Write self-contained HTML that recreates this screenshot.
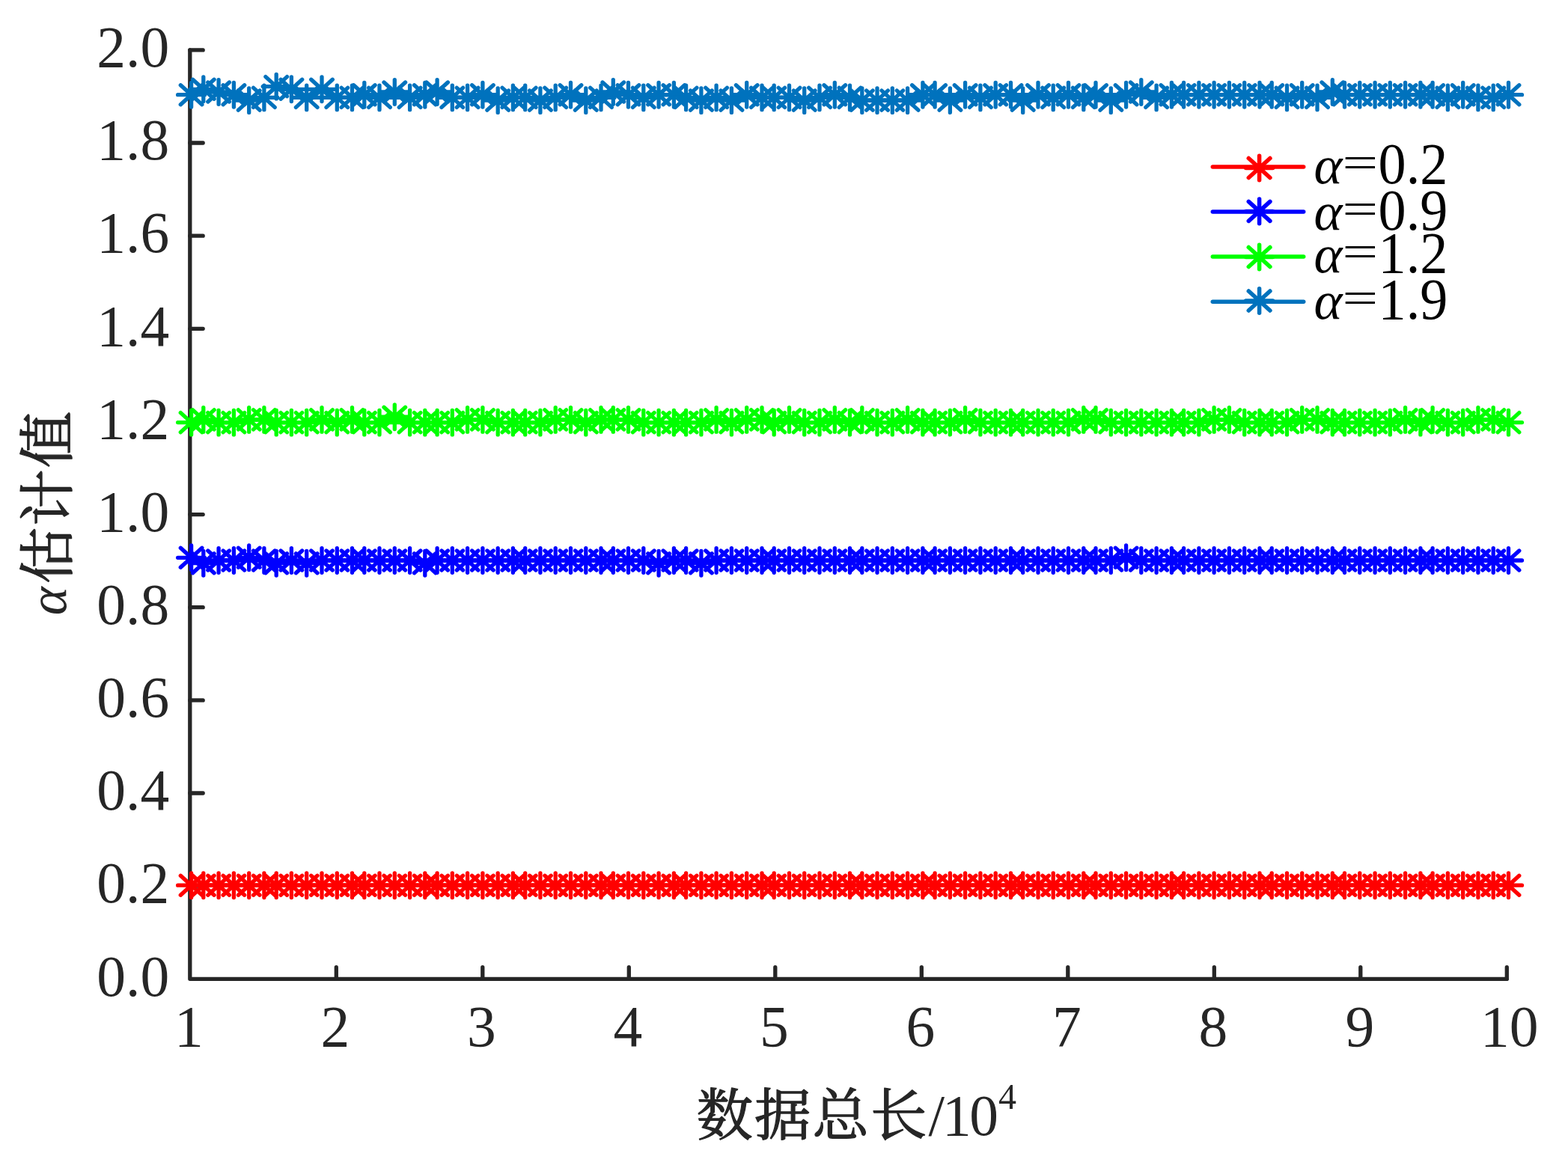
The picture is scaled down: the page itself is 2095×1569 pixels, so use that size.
<!DOCTYPE html>
<html lang="zh"><head><meta charset="utf-8"><title>α估计值</title>
<style>html,body{margin:0;padding:0;background:#fff}body{width:2095px;height:1569px;overflow:hidden}svg{display:block}text{font-family:"Liberation Serif","Noto Serif CJK SC",serif;fill:#262626;font-size:77.5px}.lg text{fill:#000}.cj{font-family:"Noto Serif CJK SC","Liberation Serif",serif;font-size:75.5px;letter-spacing:2px;stroke:#262626;stroke-width:1.3px;stroke-linejoin:round}.i{font-style:italic}</style></head><body>
<svg width="2095" height="1569" viewBox="0 0 2095 1569">
<rect width="2095" height="1569" fill="#fff"/>
<defs><path id="m" d="M-18 0H18M0 -16.3V16.3M-14.3 -13L14.3 13M-14.3 13L14.3 -13"/></defs>
<g stroke="#262626" stroke-width="5.3" stroke-linecap="round" stroke-linejoin="round" fill="none">
<path d="M253.8 66.9V1308.3H2013.3"/>
<path d="M253.8 1184.2h17.4M253.8 1060.0h17.4M253.8 935.9h17.4M253.8 811.7h17.4M253.8 687.6h17.4M253.8 563.5h17.4M253.8 439.3h17.4M253.8 315.2h17.4M253.8 191.0h17.4M253.8 66.9h17.4M449.3 1308.3v-15.6M644.8 1308.3v-15.6M840.3 1308.3v-15.6M1035.8 1308.3v-15.6M1231.3 1308.3v-15.6M1426.8 1308.3v-15.6M1622.3 1308.3v-15.6M1817.8 1308.3v-15.6M2013.3 1308.3v-15.6"/>
</g>
<g text-anchor="end">
<text x="226.2" y="1330.5">0.0</text>
<text x="226.2" y="1206.4">0.2</text>
<text x="226.2" y="1082.2">0.4</text>
<text x="226.2" y="958.1">0.6</text>
<text x="226.2" y="833.9">0.8</text>
<text x="226.2" y="709.8">1.0</text>
<text x="226.2" y="585.7">1.2</text>
<text x="226.2" y="461.5">1.4</text>
<text x="226.2" y="337.4">1.6</text>
<text x="226.2" y="213.2">1.8</text>
<text x="226.2" y="89.1">2.0</text>
</g>
<g text-anchor="middle">
<text x="252.3" y="1398">1</text>
<text x="447.8" y="1398">2</text>
<text x="643.3" y="1398">3</text>
<text x="838.8" y="1398">4</text>
<text x="1034.3" y="1398">5</text>
<text x="1229.8" y="1398">6</text>
<text x="1425.3" y="1398">7</text>
<text x="1620.8" y="1398">8</text>
<text x="1816.8" y="1398">9</text>
<text x="2016.8" y="1398">10</text>
</g>
<text x="930.5" y="1517.2"><tspan class="cj">数据总长</tspan><tspan x="1240.6" y="1516.8">/</tspan><tspan x="1259">1</tspan><tspan x="1295.3">0</tspan><tspan x="1334" y="1482.3" style="font-size:48px">4</tspan></text>
<text class="i" style="font-size:72.3px" transform="translate(88 822.3) rotate(-90)">α</text>
<text class="cj" transform="translate(90 780.2) rotate(-90)">估计值</text>
<g stroke="#ff0000" stroke-width="5.3" stroke-linecap="round" stroke-linejoin="round" fill="none">
<polyline points="255.6,1183.2 271.8,1183.2 292.1,1183.2 312.4,1183.2 332.7,1183.2 352.9,1183.2 369.2,1183.2 389.4,1183.2 409.7,1183.2 430.0,1183.2 450.3,1183.2 470.5,1183.2 486.8,1183.2 507.0,1183.2 527.3,1183.2 547.6,1183.2 567.8,1183.2 584.1,1183.2 604.3,1183.2 624.6,1183.2 644.9,1183.2 665.2,1183.2 685.4,1183.2 701.7,1183.2 721.9,1183.2 742.2,1183.2 762.5,1183.2 782.8,1183.2 803.0,1183.2 819.3,1183.2 839.5,1183.2 859.8,1183.2 880.1,1183.2 900.4,1183.2 916.6,1183.2 936.9,1183.2 957.1,1183.2 977.4,1183.2 997.7,1183.2 1018.0,1183.2 1034.2,1183.2 1054.5,1183.2 1074.7,1183.2 1095.0,1183.2 1115.3,1183.2 1135.5,1183.2 1151.8,1183.2 1172.0,1183.2 1192.3,1183.2 1212.6,1183.2 1232.9,1183.2 1249.1,1183.2 1269.4,1183.2 1289.6,1183.2 1309.9,1183.2 1330.2,1183.2 1350.5,1183.2 1366.7,1183.2 1387.0,1183.2 1407.2,1183.2 1427.5,1183.2 1447.8,1183.2 1464.0,1183.2 1484.3,1183.2 1504.6,1183.2 1524.8,1183.2 1545.1,1183.2 1565.4,1183.2 1581.6,1183.2 1601.9,1183.2 1622.1,1183.2 1642.4,1183.2 1662.7,1183.2 1683.0,1183.2 1699.2,1183.2 1719.5,1183.2 1739.7,1183.2 1760.0,1183.2 1780.3,1183.2 1796.5,1183.2 1816.8,1183.2 1837.1,1183.2 1857.3,1183.2 1877.6,1183.2 1897.9,1183.2 1914.1,1183.2 1934.4,1183.2 1954.7,1183.2 1974.9,1183.2 1995.2,1183.2 2015.5,1183.2"/>
<use href="#m" x="255.6" y="1183.2"/><use href="#m" x="271.8" y="1183.2"/><use href="#m" x="292.1" y="1183.2"/><use href="#m" x="312.4" y="1183.2"/><use href="#m" x="332.7" y="1183.2"/><use href="#m" x="352.9" y="1183.2"/><use href="#m" x="369.2" y="1183.2"/><use href="#m" x="389.4" y="1183.2"/><use href="#m" x="409.7" y="1183.2"/><use href="#m" x="430.0" y="1183.2"/><use href="#m" x="450.3" y="1183.2"/><use href="#m" x="470.5" y="1183.2"/><use href="#m" x="486.8" y="1183.2"/><use href="#m" x="507.0" y="1183.2"/><use href="#m" x="527.3" y="1183.2"/><use href="#m" x="547.6" y="1183.2"/><use href="#m" x="567.8" y="1183.2"/><use href="#m" x="584.1" y="1183.2"/><use href="#m" x="604.3" y="1183.2"/><use href="#m" x="624.6" y="1183.2"/><use href="#m" x="644.9" y="1183.2"/><use href="#m" x="665.2" y="1183.2"/><use href="#m" x="685.4" y="1183.2"/><use href="#m" x="701.7" y="1183.2"/><use href="#m" x="721.9" y="1183.2"/><use href="#m" x="742.2" y="1183.2"/><use href="#m" x="762.5" y="1183.2"/><use href="#m" x="782.8" y="1183.2"/><use href="#m" x="803.0" y="1183.2"/><use href="#m" x="819.3" y="1183.2"/><use href="#m" x="839.5" y="1183.2"/><use href="#m" x="859.8" y="1183.2"/><use href="#m" x="880.1" y="1183.2"/><use href="#m" x="900.4" y="1183.2"/><use href="#m" x="916.6" y="1183.2"/><use href="#m" x="936.9" y="1183.2"/><use href="#m" x="957.1" y="1183.2"/><use href="#m" x="977.4" y="1183.2"/><use href="#m" x="997.7" y="1183.2"/><use href="#m" x="1018.0" y="1183.2"/><use href="#m" x="1034.2" y="1183.2"/><use href="#m" x="1054.5" y="1183.2"/><use href="#m" x="1074.7" y="1183.2"/><use href="#m" x="1095.0" y="1183.2"/><use href="#m" x="1115.3" y="1183.2"/><use href="#m" x="1135.5" y="1183.2"/><use href="#m" x="1151.8" y="1183.2"/><use href="#m" x="1172.0" y="1183.2"/><use href="#m" x="1192.3" y="1183.2"/><use href="#m" x="1212.6" y="1183.2"/><use href="#m" x="1232.9" y="1183.2"/><use href="#m" x="1249.1" y="1183.2"/><use href="#m" x="1269.4" y="1183.2"/><use href="#m" x="1289.6" y="1183.2"/><use href="#m" x="1309.9" y="1183.2"/><use href="#m" x="1330.2" y="1183.2"/><use href="#m" x="1350.5" y="1183.2"/><use href="#m" x="1366.7" y="1183.2"/><use href="#m" x="1387.0" y="1183.2"/><use href="#m" x="1407.2" y="1183.2"/><use href="#m" x="1427.5" y="1183.2"/><use href="#m" x="1447.8" y="1183.2"/><use href="#m" x="1464.0" y="1183.2"/><use href="#m" x="1484.3" y="1183.2"/><use href="#m" x="1504.6" y="1183.2"/><use href="#m" x="1524.8" y="1183.2"/><use href="#m" x="1545.1" y="1183.2"/><use href="#m" x="1565.4" y="1183.2"/><use href="#m" x="1581.6" y="1183.2"/><use href="#m" x="1601.9" y="1183.2"/><use href="#m" x="1622.1" y="1183.2"/><use href="#m" x="1642.4" y="1183.2"/><use href="#m" x="1662.7" y="1183.2"/><use href="#m" x="1683.0" y="1183.2"/><use href="#m" x="1699.2" y="1183.2"/><use href="#m" x="1719.5" y="1183.2"/><use href="#m" x="1739.7" y="1183.2"/><use href="#m" x="1760.0" y="1183.2"/><use href="#m" x="1780.3" y="1183.2"/><use href="#m" x="1796.5" y="1183.2"/><use href="#m" x="1816.8" y="1183.2"/><use href="#m" x="1837.1" y="1183.2"/><use href="#m" x="1857.3" y="1183.2"/><use href="#m" x="1877.6" y="1183.2"/><use href="#m" x="1897.9" y="1183.2"/><use href="#m" x="1914.1" y="1183.2"/><use href="#m" x="1934.4" y="1183.2"/><use href="#m" x="1954.7" y="1183.2"/><use href="#m" x="1974.9" y="1183.2"/><use href="#m" x="1995.2" y="1183.2"/><use href="#m" x="2015.5" y="1183.2"/>
</g>
<g stroke="#0000ff" stroke-width="5.3" stroke-linecap="round" stroke-linejoin="round" fill="none">
<polyline points="255.6,745.3 271.8,752.7 292.1,749.0 312.4,749.0 332.7,745.3 352.9,749.0 369.2,752.7 389.4,749.0 409.7,752.7 430.0,749.0 450.3,749.0 470.5,749.0 486.8,749.0 507.0,749.0 527.3,749.0 547.6,749.0 567.8,752.7 584.1,749.0 604.3,749.0 624.6,749.0 644.9,749.0 665.2,749.0 685.4,749.0 701.7,749.0 721.9,749.0 742.2,749.0 762.5,749.0 782.8,749.0 803.0,749.0 819.3,749.0 839.5,749.0 859.8,749.0 880.1,752.7 900.4,749.0 916.6,749.0 936.9,752.7 957.1,749.0 977.4,749.0 997.7,749.0 1018.0,749.0 1034.2,749.0 1054.5,749.0 1074.7,749.0 1095.0,749.0 1115.3,749.0 1135.5,749.0 1151.8,749.0 1172.0,749.0 1192.3,749.0 1212.6,749.0 1232.9,749.0 1249.1,749.0 1269.4,749.0 1289.6,749.0 1309.9,749.0 1330.2,749.0 1350.5,749.0 1366.7,749.0 1387.0,749.0 1407.2,749.0 1427.5,749.0 1447.8,749.0 1464.0,749.0 1484.3,749.0 1504.6,745.3 1524.8,749.0 1545.1,749.0 1565.4,749.0 1581.6,749.0 1601.9,749.0 1622.1,749.0 1642.4,749.0 1662.7,749.0 1683.0,749.0 1699.2,749.0 1719.5,749.0 1739.7,749.0 1760.0,749.0 1780.3,749.0 1796.5,749.0 1816.8,749.0 1837.1,749.0 1857.3,749.0 1877.6,749.0 1897.9,749.0 1914.1,749.0 1934.4,749.0 1954.7,749.0 1974.9,749.0 1995.2,749.0 2015.5,749.0"/>
<use href="#m" x="255.6" y="745.3"/><use href="#m" x="271.8" y="752.7"/><use href="#m" x="292.1" y="749.0"/><use href="#m" x="312.4" y="749.0"/><use href="#m" x="332.7" y="745.3"/><use href="#m" x="352.9" y="749.0"/><use href="#m" x="369.2" y="752.7"/><use href="#m" x="389.4" y="749.0"/><use href="#m" x="409.7" y="752.7"/><use href="#m" x="430.0" y="749.0"/><use href="#m" x="450.3" y="749.0"/><use href="#m" x="470.5" y="749.0"/><use href="#m" x="486.8" y="749.0"/><use href="#m" x="507.0" y="749.0"/><use href="#m" x="527.3" y="749.0"/><use href="#m" x="547.6" y="749.0"/><use href="#m" x="567.8" y="752.7"/><use href="#m" x="584.1" y="749.0"/><use href="#m" x="604.3" y="749.0"/><use href="#m" x="624.6" y="749.0"/><use href="#m" x="644.9" y="749.0"/><use href="#m" x="665.2" y="749.0"/><use href="#m" x="685.4" y="749.0"/><use href="#m" x="701.7" y="749.0"/><use href="#m" x="721.9" y="749.0"/><use href="#m" x="742.2" y="749.0"/><use href="#m" x="762.5" y="749.0"/><use href="#m" x="782.8" y="749.0"/><use href="#m" x="803.0" y="749.0"/><use href="#m" x="819.3" y="749.0"/><use href="#m" x="839.5" y="749.0"/><use href="#m" x="859.8" y="749.0"/><use href="#m" x="880.1" y="752.7"/><use href="#m" x="900.4" y="749.0"/><use href="#m" x="916.6" y="749.0"/><use href="#m" x="936.9" y="752.7"/><use href="#m" x="957.1" y="749.0"/><use href="#m" x="977.4" y="749.0"/><use href="#m" x="997.7" y="749.0"/><use href="#m" x="1018.0" y="749.0"/><use href="#m" x="1034.2" y="749.0"/><use href="#m" x="1054.5" y="749.0"/><use href="#m" x="1074.7" y="749.0"/><use href="#m" x="1095.0" y="749.0"/><use href="#m" x="1115.3" y="749.0"/><use href="#m" x="1135.5" y="749.0"/><use href="#m" x="1151.8" y="749.0"/><use href="#m" x="1172.0" y="749.0"/><use href="#m" x="1192.3" y="749.0"/><use href="#m" x="1212.6" y="749.0"/><use href="#m" x="1232.9" y="749.0"/><use href="#m" x="1249.1" y="749.0"/><use href="#m" x="1269.4" y="749.0"/><use href="#m" x="1289.6" y="749.0"/><use href="#m" x="1309.9" y="749.0"/><use href="#m" x="1330.2" y="749.0"/><use href="#m" x="1350.5" y="749.0"/><use href="#m" x="1366.7" y="749.0"/><use href="#m" x="1387.0" y="749.0"/><use href="#m" x="1407.2" y="749.0"/><use href="#m" x="1427.5" y="749.0"/><use href="#m" x="1447.8" y="749.0"/><use href="#m" x="1464.0" y="749.0"/><use href="#m" x="1484.3" y="749.0"/><use href="#m" x="1504.6" y="745.3"/><use href="#m" x="1524.8" y="749.0"/><use href="#m" x="1545.1" y="749.0"/><use href="#m" x="1565.4" y="749.0"/><use href="#m" x="1581.6" y="749.0"/><use href="#m" x="1601.9" y="749.0"/><use href="#m" x="1622.1" y="749.0"/><use href="#m" x="1642.4" y="749.0"/><use href="#m" x="1662.7" y="749.0"/><use href="#m" x="1683.0" y="749.0"/><use href="#m" x="1699.2" y="749.0"/><use href="#m" x="1719.5" y="749.0"/><use href="#m" x="1739.7" y="749.0"/><use href="#m" x="1760.0" y="749.0"/><use href="#m" x="1780.3" y="749.0"/><use href="#m" x="1796.5" y="749.0"/><use href="#m" x="1816.8" y="749.0"/><use href="#m" x="1837.1" y="749.0"/><use href="#m" x="1857.3" y="749.0"/><use href="#m" x="1877.6" y="749.0"/><use href="#m" x="1897.9" y="749.0"/><use href="#m" x="1914.1" y="749.0"/><use href="#m" x="1934.4" y="749.0"/><use href="#m" x="1954.7" y="749.0"/><use href="#m" x="1974.9" y="749.0"/><use href="#m" x="1995.2" y="749.0"/><use href="#m" x="2015.5" y="749.0"/>
</g>
<g stroke="#00ff00" stroke-width="5.3" stroke-linecap="round" stroke-linejoin="round" fill="none">
<polyline points="255.6,564.6 271.8,560.9 292.1,564.6 312.4,564.6 332.7,560.9 352.9,560.9 369.2,564.6 389.4,564.6 409.7,564.6 430.0,560.9 450.3,564.6 470.5,560.9 486.8,564.6 507.0,564.6 527.3,557.2 547.6,564.6 567.8,564.6 584.1,564.6 604.3,564.6 624.6,560.9 644.9,560.9 665.2,564.6 685.4,564.6 701.7,564.6 721.9,564.6 742.2,560.9 762.5,560.9 782.8,564.6 803.0,560.9 819.3,560.9 839.5,560.9 859.8,564.6 880.1,564.6 900.4,564.6 916.6,564.6 936.9,564.6 957.1,560.9 977.4,564.6 997.7,560.9 1018.0,560.9 1034.2,564.6 1054.5,560.9 1074.7,564.6 1095.0,564.6 1115.3,560.9 1135.5,564.6 1151.8,560.9 1172.0,564.6 1192.3,564.6 1212.6,560.9 1232.9,564.6 1249.1,564.6 1269.4,564.6 1289.6,560.9 1309.9,564.6 1330.2,564.6 1350.5,564.6 1366.7,564.6 1387.0,564.6 1407.2,564.6 1427.5,564.6 1447.8,560.9 1464.0,560.9 1484.3,564.6 1504.6,564.6 1524.8,564.6 1545.1,564.6 1565.4,564.6 1581.6,564.6 1601.9,564.6 1622.1,560.9 1642.4,560.9 1662.7,564.6 1683.0,564.6 1699.2,564.6 1719.5,564.6 1739.7,560.9 1760.0,560.9 1780.3,564.6 1796.5,564.6 1816.8,564.6 1837.1,564.6 1857.3,564.6 1877.6,560.9 1897.9,564.6 1914.1,560.9 1934.4,564.6 1954.7,564.6 1974.9,560.9 1995.2,560.9 2015.5,564.6"/>
<use href="#m" x="255.6" y="564.6"/><use href="#m" x="271.8" y="560.9"/><use href="#m" x="292.1" y="564.6"/><use href="#m" x="312.4" y="564.6"/><use href="#m" x="332.7" y="560.9"/><use href="#m" x="352.9" y="560.9"/><use href="#m" x="369.2" y="564.6"/><use href="#m" x="389.4" y="564.6"/><use href="#m" x="409.7" y="564.6"/><use href="#m" x="430.0" y="560.9"/><use href="#m" x="450.3" y="564.6"/><use href="#m" x="470.5" y="560.9"/><use href="#m" x="486.8" y="564.6"/><use href="#m" x="507.0" y="564.6"/><use href="#m" x="527.3" y="557.2"/><use href="#m" x="547.6" y="564.6"/><use href="#m" x="567.8" y="564.6"/><use href="#m" x="584.1" y="564.6"/><use href="#m" x="604.3" y="564.6"/><use href="#m" x="624.6" y="560.9"/><use href="#m" x="644.9" y="560.9"/><use href="#m" x="665.2" y="564.6"/><use href="#m" x="685.4" y="564.6"/><use href="#m" x="701.7" y="564.6"/><use href="#m" x="721.9" y="564.6"/><use href="#m" x="742.2" y="560.9"/><use href="#m" x="762.5" y="560.9"/><use href="#m" x="782.8" y="564.6"/><use href="#m" x="803.0" y="560.9"/><use href="#m" x="819.3" y="560.9"/><use href="#m" x="839.5" y="560.9"/><use href="#m" x="859.8" y="564.6"/><use href="#m" x="880.1" y="564.6"/><use href="#m" x="900.4" y="564.6"/><use href="#m" x="916.6" y="564.6"/><use href="#m" x="936.9" y="564.6"/><use href="#m" x="957.1" y="560.9"/><use href="#m" x="977.4" y="564.6"/><use href="#m" x="997.7" y="560.9"/><use href="#m" x="1018.0" y="560.9"/><use href="#m" x="1034.2" y="564.6"/><use href="#m" x="1054.5" y="560.9"/><use href="#m" x="1074.7" y="564.6"/><use href="#m" x="1095.0" y="564.6"/><use href="#m" x="1115.3" y="560.9"/><use href="#m" x="1135.5" y="564.6"/><use href="#m" x="1151.8" y="560.9"/><use href="#m" x="1172.0" y="564.6"/><use href="#m" x="1192.3" y="564.6"/><use href="#m" x="1212.6" y="560.9"/><use href="#m" x="1232.9" y="564.6"/><use href="#m" x="1249.1" y="564.6"/><use href="#m" x="1269.4" y="564.6"/><use href="#m" x="1289.6" y="560.9"/><use href="#m" x="1309.9" y="564.6"/><use href="#m" x="1330.2" y="564.6"/><use href="#m" x="1350.5" y="564.6"/><use href="#m" x="1366.7" y="564.6"/><use href="#m" x="1387.0" y="564.6"/><use href="#m" x="1407.2" y="564.6"/><use href="#m" x="1427.5" y="564.6"/><use href="#m" x="1447.8" y="560.9"/><use href="#m" x="1464.0" y="560.9"/><use href="#m" x="1484.3" y="564.6"/><use href="#m" x="1504.6" y="564.6"/><use href="#m" x="1524.8" y="564.6"/><use href="#m" x="1545.1" y="564.6"/><use href="#m" x="1565.4" y="564.6"/><use href="#m" x="1581.6" y="564.6"/><use href="#m" x="1601.9" y="564.6"/><use href="#m" x="1622.1" y="560.9"/><use href="#m" x="1642.4" y="560.9"/><use href="#m" x="1662.7" y="564.6"/><use href="#m" x="1683.0" y="564.6"/><use href="#m" x="1699.2" y="564.6"/><use href="#m" x="1719.5" y="564.6"/><use href="#m" x="1739.7" y="560.9"/><use href="#m" x="1760.0" y="560.9"/><use href="#m" x="1780.3" y="564.6"/><use href="#m" x="1796.5" y="564.6"/><use href="#m" x="1816.8" y="564.6"/><use href="#m" x="1837.1" y="564.6"/><use href="#m" x="1857.3" y="564.6"/><use href="#m" x="1877.6" y="560.9"/><use href="#m" x="1897.9" y="564.6"/><use href="#m" x="1914.1" y="560.9"/><use href="#m" x="1934.4" y="564.6"/><use href="#m" x="1954.7" y="564.6"/><use href="#m" x="1974.9" y="560.9"/><use href="#m" x="1995.2" y="560.9"/><use href="#m" x="2015.5" y="564.6"/>
</g>
<g stroke="#0072bd" stroke-width="5.3" stroke-linecap="round" stroke-linejoin="round" fill="none">
<polyline points="255.6,126.7 271.8,119.3 292.1,123.0 312.4,126.7 332.7,134.1 352.9,130.4 369.2,115.6 389.4,119.3 409.7,130.4 430.0,119.3 450.3,130.4 470.5,130.4 486.8,126.7 507.0,130.4 527.3,123.0 547.6,130.4 567.8,126.7 584.1,123.0 604.3,130.4 624.6,130.4 644.9,126.7 665.2,134.1 685.4,130.4 701.7,130.4 721.9,134.1 742.2,130.4 762.5,126.7 782.8,134.1 803.0,130.4 819.3,123.0 839.5,126.7 859.8,130.4 880.1,126.7 900.4,126.7 916.6,130.4 936.9,134.1 957.1,130.4 977.4,134.1 997.7,126.7 1018.0,130.4 1034.2,130.4 1054.5,130.4 1074.7,134.1 1095.0,130.4 1115.3,126.7 1135.5,130.4 1151.8,134.1 1172.0,134.1 1192.3,134.1 1212.6,134.1 1232.9,126.7 1249.1,126.7 1269.4,134.1 1289.6,126.7 1309.9,130.4 1330.2,126.7 1350.5,126.7 1366.7,134.1 1387.0,126.7 1407.2,130.4 1427.5,126.7 1447.8,130.4 1464.0,126.7 1484.3,134.1 1504.6,126.7 1524.8,123.0 1545.1,130.4 1565.4,126.7 1581.6,126.7 1601.9,126.7 1622.1,126.7 1642.4,126.7 1662.7,126.7 1683.0,126.7 1699.2,126.7 1719.5,130.4 1739.7,126.7 1760.0,130.4 1780.3,123.0 1796.5,126.7 1816.8,126.7 1837.1,126.7 1857.3,126.7 1877.6,126.7 1897.9,126.7 1914.1,126.7 1934.4,130.4 1954.7,126.7 1974.9,130.4 1995.2,130.4 2015.5,126.7"/>
<use href="#m" x="255.6" y="126.7"/><use href="#m" x="271.8" y="119.3"/><use href="#m" x="292.1" y="123.0"/><use href="#m" x="312.4" y="126.7"/><use href="#m" x="332.7" y="134.1"/><use href="#m" x="352.9" y="130.4"/><use href="#m" x="369.2" y="115.6"/><use href="#m" x="389.4" y="119.3"/><use href="#m" x="409.7" y="130.4"/><use href="#m" x="430.0" y="119.3"/><use href="#m" x="450.3" y="130.4"/><use href="#m" x="470.5" y="130.4"/><use href="#m" x="486.8" y="126.7"/><use href="#m" x="507.0" y="130.4"/><use href="#m" x="527.3" y="123.0"/><use href="#m" x="547.6" y="130.4"/><use href="#m" x="567.8" y="126.7"/><use href="#m" x="584.1" y="123.0"/><use href="#m" x="604.3" y="130.4"/><use href="#m" x="624.6" y="130.4"/><use href="#m" x="644.9" y="126.7"/><use href="#m" x="665.2" y="134.1"/><use href="#m" x="685.4" y="130.4"/><use href="#m" x="701.7" y="130.4"/><use href="#m" x="721.9" y="134.1"/><use href="#m" x="742.2" y="130.4"/><use href="#m" x="762.5" y="126.7"/><use href="#m" x="782.8" y="134.1"/><use href="#m" x="803.0" y="130.4"/><use href="#m" x="819.3" y="123.0"/><use href="#m" x="839.5" y="126.7"/><use href="#m" x="859.8" y="130.4"/><use href="#m" x="880.1" y="126.7"/><use href="#m" x="900.4" y="126.7"/><use href="#m" x="916.6" y="130.4"/><use href="#m" x="936.9" y="134.1"/><use href="#m" x="957.1" y="130.4"/><use href="#m" x="977.4" y="134.1"/><use href="#m" x="997.7" y="126.7"/><use href="#m" x="1018.0" y="130.4"/><use href="#m" x="1034.2" y="130.4"/><use href="#m" x="1054.5" y="130.4"/><use href="#m" x="1074.7" y="134.1"/><use href="#m" x="1095.0" y="130.4"/><use href="#m" x="1115.3" y="126.7"/><use href="#m" x="1135.5" y="130.4"/><use href="#m" x="1151.8" y="134.1"/><use href="#m" x="1172.0" y="134.1"/><use href="#m" x="1192.3" y="134.1"/><use href="#m" x="1212.6" y="134.1"/><use href="#m" x="1232.9" y="126.7"/><use href="#m" x="1249.1" y="126.7"/><use href="#m" x="1269.4" y="134.1"/><use href="#m" x="1289.6" y="126.7"/><use href="#m" x="1309.9" y="130.4"/><use href="#m" x="1330.2" y="126.7"/><use href="#m" x="1350.5" y="126.7"/><use href="#m" x="1366.7" y="134.1"/><use href="#m" x="1387.0" y="126.7"/><use href="#m" x="1407.2" y="130.4"/><use href="#m" x="1427.5" y="126.7"/><use href="#m" x="1447.8" y="130.4"/><use href="#m" x="1464.0" y="126.7"/><use href="#m" x="1484.3" y="134.1"/><use href="#m" x="1504.6" y="126.7"/><use href="#m" x="1524.8" y="123.0"/><use href="#m" x="1545.1" y="130.4"/><use href="#m" x="1565.4" y="126.7"/><use href="#m" x="1581.6" y="126.7"/><use href="#m" x="1601.9" y="126.7"/><use href="#m" x="1622.1" y="126.7"/><use href="#m" x="1642.4" y="126.7"/><use href="#m" x="1662.7" y="126.7"/><use href="#m" x="1683.0" y="126.7"/><use href="#m" x="1699.2" y="126.7"/><use href="#m" x="1719.5" y="130.4"/><use href="#m" x="1739.7" y="126.7"/><use href="#m" x="1760.0" y="130.4"/><use href="#m" x="1780.3" y="123.0"/><use href="#m" x="1796.5" y="126.7"/><use href="#m" x="1816.8" y="126.7"/><use href="#m" x="1837.1" y="126.7"/><use href="#m" x="1857.3" y="126.7"/><use href="#m" x="1877.6" y="126.7"/><use href="#m" x="1897.9" y="126.7"/><use href="#m" x="1914.1" y="126.7"/><use href="#m" x="1934.4" y="130.4"/><use href="#m" x="1954.7" y="126.7"/><use href="#m" x="1974.9" y="130.4"/><use href="#m" x="1995.2" y="130.4"/><use href="#m" x="2015.5" y="126.7"/>
</g>
<g class="lg">
<g stroke="#ff0000" stroke-width="5.5" stroke-linecap="round" fill="none"><path d="M1620.3 223.0H1741.7"/><use href="#m" x="1682.6" y="224.5"/></g>
<text class="i" x="1755.6" y="244.9" style="font-size:72.3px">α</text>
<text transform="translate(1793.4 236.9) scale(1.09 0.75)">=</text>
<text transform="translate(1841.6 244.9) scale(0.957 1)">0.2</text>
<g stroke="#0000ff" stroke-width="5.5" stroke-linecap="round" fill="none"><path d="M1620.3 283.0H1741.7"/><use href="#m" x="1682.6" y="282.4"/></g>
<text class="i" x="1755.6" y="307.0" style="font-size:72.3px">α</text>
<text transform="translate(1793.4 299.0) scale(1.09 0.75)">=</text>
<text transform="translate(1841.6 307.0) scale(0.957 1)">0.9</text>
<g stroke="#00ff00" stroke-width="5.5" stroke-linecap="round" fill="none"><path d="M1620.3 343.1H1741.7"/><use href="#m" x="1682.6" y="343.5"/></g>
<text class="i" x="1755.6" y="363.6" style="font-size:72.3px">α</text>
<text transform="translate(1793.4 355.6) scale(1.09 0.75)">=</text>
<text transform="translate(1841.6 363.6) scale(0.957 1)">1.2</text>
<g stroke="#0072bd" stroke-width="5.5" stroke-linecap="round" fill="none"><path d="M1620.3 403.2H1741.7"/><use href="#m" x="1682.6" y="402.0"/></g>
<text class="i" x="1755.6" y="425.7" style="font-size:72.3px">α</text>
<text transform="translate(1793.4 417.7) scale(1.09 0.75)">=</text>
<text transform="translate(1841.6 425.7) scale(0.957 1)">1.9</text>
</g>
</svg></body></html>
